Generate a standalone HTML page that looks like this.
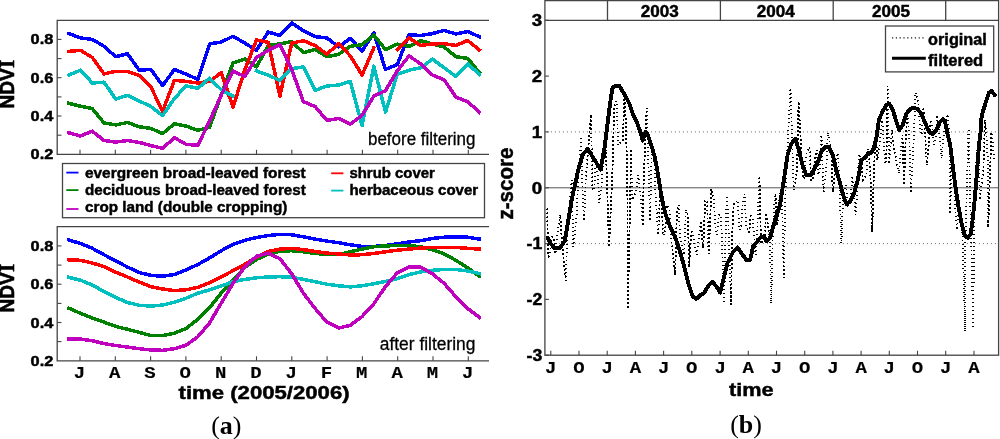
<!DOCTYPE html>
<html><head><meta charset="utf-8"><style>
html,body{margin:0;padding:0;background:#fff;}
svg{display:block;will-change:transform;}
text{fill:#000;} text[font-weight=bold]{stroke:#000;stroke-width:0.45px;} text.b{stroke-width:0.15px;}
</style></head><body>
<svg width="1000" height="439" viewBox="0 0 1000 439">
<g>
<path d="M489,20.3 H57.2 V154.3 H489" fill="none" stroke="#444" stroke-width="1.3"/>
<line x1="57.2" y1="135.2" x2="61.5" y2="135.2" stroke="#444" stroke-width="1.1"/>
<line x1="57.2" y1="116.0" x2="61.5" y2="116.0" stroke="#444" stroke-width="1.1"/>
<line x1="57.2" y1="96.9" x2="61.5" y2="96.9" stroke="#444" stroke-width="1.1"/>
<line x1="57.2" y1="77.7" x2="61.5" y2="77.7" stroke="#444" stroke-width="1.1"/>
<line x1="57.2" y1="58.6" x2="61.5" y2="58.6" stroke="#444" stroke-width="1.1"/>
<line x1="57.2" y1="39.4" x2="61.5" y2="39.4" stroke="#444" stroke-width="1.1"/>
<line x1="80.0" y1="154.3" x2="80.0" y2="149.8" stroke="#444" stroke-width="1.1"/>
<line x1="115.3" y1="154.3" x2="115.3" y2="149.8" stroke="#444" stroke-width="1.1"/>
<line x1="150.6" y1="154.3" x2="150.6" y2="149.8" stroke="#444" stroke-width="1.1"/>
<line x1="185.9" y1="154.3" x2="185.9" y2="149.8" stroke="#444" stroke-width="1.1"/>
<line x1="221.2" y1="154.3" x2="221.2" y2="149.8" stroke="#444" stroke-width="1.1"/>
<line x1="256.5" y1="154.3" x2="256.5" y2="149.8" stroke="#444" stroke-width="1.1"/>
<line x1="291.8" y1="154.3" x2="291.8" y2="149.8" stroke="#444" stroke-width="1.1"/>
<line x1="327.1" y1="154.3" x2="327.1" y2="149.8" stroke="#444" stroke-width="1.1"/>
<line x1="362.4" y1="154.3" x2="362.4" y2="149.8" stroke="#444" stroke-width="1.1"/>
<line x1="397.7" y1="154.3" x2="397.7" y2="149.8" stroke="#444" stroke-width="1.1"/>
<line x1="433.0" y1="154.3" x2="433.0" y2="149.8" stroke="#444" stroke-width="1.1"/>
<line x1="468.3" y1="154.3" x2="468.3" y2="149.8" stroke="#444" stroke-width="1.1"/>
<polyline points="68.8,33.5 80.5,38.0 92.3,39.4 104.0,46.3 115.7,56.7 127.5,53.8 139.2,70.2 150.9,69.4 162.6,85.6 174.4,69.4 186.1,74.2 197.8,79.3 209.6,43.9 221.3,42.0 233.0,36.3 244.8,43.1 256.5,50.3 268.2,32.0 279.9,35.5 291.7,22.9 303.4,30.8 315.1,36.7 326.9,37.9 338.6,47.0 350.3,38.3 362.1,51.1 373.8,32.8 385.5,69.4 397.2,64.7 409.0,34.7 420.7,35.5 432.4,33.6 444.2,30.4 455.9,34.0 467.6,31.5 479.4,36.7" fill="none" stroke="#0000ff" stroke-width="3.5" stroke-linejoin="round" stroke-linecap="square" shape-rendering="crispEdges"/>
<polyline points="68.8,103.3 80.5,106.2 92.3,108.6 104.0,122.9 115.7,124.9 127.5,122.5 139.2,126.8 150.9,128.4 162.6,133.6 174.4,123.7 186.1,126.1 197.8,130.4 209.6,127.2 221.3,94.6 233.0,63.0 244.8,59.0 256.5,67.0 268.2,45.5 279.9,43.9 291.7,41.5 303.4,52.7 315.1,49.5 326.9,56.7 338.6,54.3 350.3,46.3 362.1,44.7 373.8,35.1 385.5,49.5 397.2,44.2 409.0,46.3 420.7,40.7 432.4,43.9 444.2,47.1 455.9,56.7 467.6,58.3 479.4,72.6" fill="none" stroke="#008000" stroke-width="3.5" stroke-linejoin="round" stroke-linecap="square" shape-rendering="crispEdges"/>
<polyline points="68.8,51.4 80.5,50.3 92.3,57.5 104.0,73.9 115.7,71.3 127.5,71.3 139.2,75.5 150.9,87.0 162.6,111.3 174.4,80.3 186.1,81.4 197.8,83.0 209.6,81.4 221.3,72.6 233.0,107.3 244.8,70.0 256.5,39.9 268.2,42.3 279.9,96.2 291.7,43.1 303.4,40.7 315.1,45.5 326.9,54.3 338.6,43.5 350.3,55.9 362.1,75.0 373.8,47.9" fill="none" stroke="#ff0000" stroke-width="3.5" stroke-linejoin="round" stroke-linecap="square" shape-rendering="crispEdges"/>
<polyline points="397.2,49.5 409.0,37.9 420.7,45.5 432.4,43.9 444.2,43.6 455.9,45.5 467.6,40.4 479.4,50.0" fill="none" stroke="#ff0000" stroke-width="3.5" stroke-linejoin="round" stroke-linecap="square" shape-rendering="crispEdges"/>
<polyline points="68.8,75.0 80.5,70.2 92.3,83.0 104.0,82.2 115.7,99.0 127.5,95.4 139.2,101.0 150.9,106.5 162.6,115.6 174.4,98.5 186.1,85.8 197.8,88.3 209.6,78.2 221.3,89.8 233.0,96.2" fill="none" stroke="#00bfbf" stroke-width="3.5" stroke-linejoin="round" stroke-linecap="square" shape-rendering="crispEdges"/>
<polyline points="256.5,71.0 268.2,75.0 279.9,80.6 291.7,68.6 303.4,67.0 315.1,90.3 326.9,86.0 338.6,85.0 350.3,81.4 362.1,125.7 373.8,66.2 385.5,112.1 397.2,74.2 409.0,70.2 420.7,67.8 432.4,59.1 444.2,67.8 455.9,76.6 467.6,63.9 479.4,74.2" fill="none" stroke="#00bfbf" stroke-width="3.5" stroke-linejoin="round" stroke-linecap="square" shape-rendering="crispEdges"/>
<polyline points="68.8,132.8 80.5,136.0 92.3,131.2 104.0,140.5 115.7,142.1 127.5,140.5 139.2,142.4 150.9,145.6 162.6,148.4 174.4,137.6 186.1,144.3 197.8,145.3 209.6,121.0 221.3,95.0 233.0,71.0 244.8,76.6 256.5,57.5 268.2,50.3 279.9,44.7 291.7,69.4 303.4,101.7 315.1,106.5 326.9,120.4 338.6,118.5 350.3,124.1 362.1,115.3 373.8,96.2 385.5,90.6 397.2,71.0 409.0,55.9 420.7,63.9 432.4,75.0 444.2,79.8 455.9,97.0 467.6,101.7 479.4,112.1" fill="none" stroke="#bf00bf" stroke-width="3.5" stroke-linejoin="round" stroke-linecap="square" shape-rendering="crispEdges"/>
<text x="368" y="144.6" font-family="Liberation Sans" font-size="18.3" stroke="#000" stroke-width="0.3" textLength="107.4" lengthAdjust="spacingAndGlyphs">before filtering</text>
<path d="M489,226.7 H57.2 V360.8 H489" fill="none" stroke="#444" stroke-width="1.3"/>
<line x1="57.2" y1="341.6" x2="61.5" y2="341.6" stroke="#444" stroke-width="1.1"/>
<line x1="57.2" y1="322.5" x2="61.5" y2="322.5" stroke="#444" stroke-width="1.1"/>
<line x1="57.2" y1="303.4" x2="61.5" y2="303.4" stroke="#444" stroke-width="1.1"/>
<line x1="57.2" y1="284.2" x2="61.5" y2="284.2" stroke="#444" stroke-width="1.1"/>
<line x1="57.2" y1="265.1" x2="61.5" y2="265.1" stroke="#444" stroke-width="1.1"/>
<line x1="57.2" y1="245.9" x2="61.5" y2="245.9" stroke="#444" stroke-width="1.1"/>
<line x1="80.0" y1="360.8" x2="80.0" y2="356.3" stroke="#444" stroke-width="1.1"/>
<line x1="115.3" y1="360.8" x2="115.3" y2="356.3" stroke="#444" stroke-width="1.1"/>
<line x1="150.6" y1="360.8" x2="150.6" y2="356.3" stroke="#444" stroke-width="1.1"/>
<line x1="185.9" y1="360.8" x2="185.9" y2="356.3" stroke="#444" stroke-width="1.1"/>
<line x1="221.2" y1="360.8" x2="221.2" y2="356.3" stroke="#444" stroke-width="1.1"/>
<line x1="256.5" y1="360.8" x2="256.5" y2="356.3" stroke="#444" stroke-width="1.1"/>
<line x1="291.8" y1="360.8" x2="291.8" y2="356.3" stroke="#444" stroke-width="1.1"/>
<line x1="327.1" y1="360.8" x2="327.1" y2="356.3" stroke="#444" stroke-width="1.1"/>
<line x1="362.4" y1="360.8" x2="362.4" y2="356.3" stroke="#444" stroke-width="1.1"/>
<line x1="397.7" y1="360.8" x2="397.7" y2="356.3" stroke="#444" stroke-width="1.1"/>
<line x1="433.0" y1="360.8" x2="433.0" y2="356.3" stroke="#444" stroke-width="1.1"/>
<line x1="468.3" y1="360.8" x2="468.3" y2="356.3" stroke="#444" stroke-width="1.1"/>
<polyline points="68.8,240.0 80.5,243.5 92.3,248.3 104.0,254.7 115.7,260.8 127.5,267.1 139.2,272.5 150.9,275.4 162.6,276.2 174.4,274.6 186.1,269.8 197.8,264.5 209.6,257.9 221.3,250.7 233.0,244.3 244.8,240.3 256.5,237.5 268.2,235.6 279.9,234.3 291.7,234.8 303.4,236.8 315.1,239.1 326.9,241.1 338.6,242.7 350.3,244.8 362.1,246.4 373.8,246.4 385.5,245.5 397.2,243.9 409.0,241.9 420.7,240.7 432.4,238.4 444.2,237.2 455.9,237.2 467.6,237.2 479.4,239.1" fill="none" stroke="#0000ff" stroke-width="3.5" stroke-linejoin="round" stroke-linecap="square" shape-rendering="crispEdges"/>
<polyline points="68.8,308.2 80.5,313.3 92.3,318.1 104.0,322.1 115.7,326.4 127.5,329.3 139.2,332.4 150.9,335.6 162.6,335.6 174.4,333.2 186.1,328.5 197.8,319.3 209.6,307.7 221.3,293.0 233.0,280.2 244.8,267.4 256.5,259.5 268.2,253.9 279.9,251.2 291.7,250.7 303.4,251.8 315.1,253.4 326.9,254.4 338.6,254.5 350.3,251.8 362.1,249.1 373.8,246.7 385.5,245.9 397.2,245.5 409.0,245.5 420.7,246.7 432.4,249.9 444.2,253.9 455.9,260.3 467.6,267.8 479.4,276.2" fill="none" stroke="#008000" stroke-width="3.5" stroke-linejoin="round" stroke-linecap="square" shape-rendering="crispEdges"/>
<polyline points="68.8,259.8 80.5,260.3 92.3,263.0 104.0,266.7 115.7,272.2 127.5,277.0 139.2,282.1 150.9,286.6 162.6,289.0 174.4,290.6 186.1,289.8 197.8,287.4 209.6,282.6 221.3,277.0 233.0,270.6 244.8,264.3 256.5,257.1 268.2,251.5 279.9,249.1 291.7,248.3 303.4,249.6 315.1,251.5 326.9,253.1 338.6,253.9 350.3,255.0 362.1,254.7 373.8,253.4 385.5,251.8 397.2,250.2 409.0,249.1 420.7,248.0 432.4,247.5 444.2,247.5 455.9,247.5 467.6,248.3 479.4,249.1" fill="none" stroke="#ff0000" stroke-width="3.5" stroke-linejoin="round" stroke-linecap="square" shape-rendering="crispEdges"/>
<polyline points="68.8,277.3 80.5,280.2 92.3,285.0 104.0,291.6 115.7,297.4 127.5,302.5 139.2,305.3 150.9,306.1 162.6,305.0 174.4,302.2 186.1,298.2 197.8,293.2 209.6,289.8 221.3,285.8 233.0,281.8 244.8,279.4 256.5,277.8 268.2,277.0 279.9,276.7 291.7,277.3 303.4,279.4 315.1,281.8 326.9,284.2 338.6,285.8 350.3,286.9 362.1,285.8 373.8,283.7 385.5,281.5 397.2,278.6 409.0,274.6 420.7,271.9 432.4,270.3 444.2,269.4 455.9,269.4 467.6,271.0 479.4,273.5" fill="none" stroke="#00bfbf" stroke-width="3.5" stroke-linejoin="round" stroke-linecap="square" shape-rendering="crispEdges"/>
<polyline points="68.8,338.8 80.5,339.1 92.3,340.7 104.0,343.6 115.7,345.5 127.5,347.1 139.2,348.7 150.9,350.0 162.6,350.3 174.4,348.7 186.1,345.2 197.8,336.8 209.6,322.9 221.3,303.0 233.0,283.4 244.8,266.7 256.5,256.3 268.2,253.1 279.9,258.7 291.7,273.8 303.4,293.2 315.1,308.5 326.9,322.1 338.6,328.0 350.3,325.3 362.1,316.5 373.8,303.8 385.5,286.5 397.2,273.0 409.0,267.1 420.7,267.1 432.4,273.8 444.2,283.4 455.9,296.8 467.6,308.5 479.4,317.3" fill="none" stroke="#bf00bf" stroke-width="3.5" stroke-linejoin="round" stroke-linecap="square" shape-rendering="crispEdges"/>
<text x="379.8" y="350.2" font-family="Liberation Sans" font-size="18.3" stroke="#000" stroke-width="0.3" textLength="95.6" lengthAdjust="spacingAndGlyphs">after filtering</text>
<text x="53.3" y="159.3" text-anchor="end" font-family="Liberation Sans" font-weight="bold" font-size="13.8" textLength="22.7" lengthAdjust="spacingAndGlyphs">0.2</text>
<text x="53.3" y="121.0" text-anchor="end" font-family="Liberation Sans" font-weight="bold" font-size="13.8" textLength="22.7" lengthAdjust="spacingAndGlyphs">0.4</text>
<text x="53.3" y="82.7" text-anchor="end" font-family="Liberation Sans" font-weight="bold" font-size="13.8" textLength="22.7" lengthAdjust="spacingAndGlyphs">0.6</text>
<text x="53.3" y="44.4" text-anchor="end" font-family="Liberation Sans" font-weight="bold" font-size="13.8" textLength="22.7" lengthAdjust="spacingAndGlyphs">0.8</text>
<text x="53.3" y="365.8" text-anchor="end" font-family="Liberation Sans" font-weight="bold" font-size="13.8" textLength="22.7" lengthAdjust="spacingAndGlyphs">0.2</text>
<text x="53.3" y="327.5" text-anchor="end" font-family="Liberation Sans" font-weight="bold" font-size="13.8" textLength="22.7" lengthAdjust="spacingAndGlyphs">0.4</text>
<text x="53.3" y="289.2" text-anchor="end" font-family="Liberation Sans" font-weight="bold" font-size="13.8" textLength="22.7" lengthAdjust="spacingAndGlyphs">0.6</text>
<text x="53.3" y="250.9" text-anchor="end" font-family="Liberation Sans" font-weight="bold" font-size="13.8" textLength="22.7" lengthAdjust="spacingAndGlyphs">0.8</text>
<text transform="translate(14.3,84.3) rotate(-90)" text-anchor="middle" font-family="Liberation Sans" font-weight="bold" font-size="19.5" style="stroke-width:0.6px" textLength="48.5" lengthAdjust="spacingAndGlyphs">NDV<tspan font-family="Liberation Serif" font-size="21">I</tspan></text>
<text transform="translate(14.3,288.3) rotate(-90)" text-anchor="middle" font-family="Liberation Sans" font-weight="bold" font-size="19.5" style="stroke-width:0.6px" textLength="48.5" lengthAdjust="spacingAndGlyphs">NDV<tspan font-family="Liberation Serif" font-size="21">I</tspan></text>
<text x="79.4" y="377.8" text-anchor="middle" font-family="Liberation Mono" font-weight="bold" font-size="17" class="b" textLength="11.4" lengthAdjust="spacingAndGlyphs">J</text>
<text x="114.7" y="377.8" text-anchor="middle" font-family="Liberation Mono" font-weight="bold" font-size="17" class="b" textLength="11.4" lengthAdjust="spacingAndGlyphs">A</text>
<text x="150.0" y="377.8" text-anchor="middle" font-family="Liberation Mono" font-weight="bold" font-size="17" class="b" textLength="11.4" lengthAdjust="spacingAndGlyphs">S</text>
<text x="185.3" y="377.8" text-anchor="middle" font-family="Liberation Mono" font-weight="bold" font-size="17" class="b" textLength="11.4" lengthAdjust="spacingAndGlyphs">O</text>
<text x="220.6" y="377.8" text-anchor="middle" font-family="Liberation Mono" font-weight="bold" font-size="17" class="b" textLength="11.4" lengthAdjust="spacingAndGlyphs">N</text>
<text x="255.9" y="377.8" text-anchor="middle" font-family="Liberation Mono" font-weight="bold" font-size="17" class="b" textLength="11.4" lengthAdjust="spacingAndGlyphs">D</text>
<text x="291.2" y="377.8" text-anchor="middle" font-family="Liberation Mono" font-weight="bold" font-size="17" class="b" textLength="11.4" lengthAdjust="spacingAndGlyphs">J</text>
<text x="326.5" y="377.8" text-anchor="middle" font-family="Liberation Mono" font-weight="bold" font-size="17" class="b" textLength="11.4" lengthAdjust="spacingAndGlyphs">F</text>
<text x="361.8" y="377.8" text-anchor="middle" font-family="Liberation Mono" font-weight="bold" font-size="17" class="b" textLength="11.4" lengthAdjust="spacingAndGlyphs">M</text>
<text x="397.1" y="377.8" text-anchor="middle" font-family="Liberation Mono" font-weight="bold" font-size="17" class="b" textLength="11.4" lengthAdjust="spacingAndGlyphs">A</text>
<text x="432.4" y="377.8" text-anchor="middle" font-family="Liberation Mono" font-weight="bold" font-size="17" class="b" textLength="11.4" lengthAdjust="spacingAndGlyphs">M</text>
<text x="467.7" y="377.8" text-anchor="middle" font-family="Liberation Mono" font-weight="bold" font-size="17" class="b" textLength="11.4" lengthAdjust="spacingAndGlyphs">J</text>
<text x="178.6" y="399.3" font-family="Liberation Sans" font-weight="bold" font-size="18" textLength="171" lengthAdjust="spacingAndGlyphs">time (2005/2006)</text>
<text x="211.2" y="433.5" font-family="Liberation Serif" font-size="26">(<tspan font-weight="bold">a</tspan>)</text>
<rect x="62.5" y="163.5" width="422" height="54.2" fill="none" stroke="#444" stroke-width="1.3"/>
<line x1="66.3" y1="172.6" x2="78.5" y2="172.6" stroke="#0000ff" stroke-width="1.8"/>
<text x="85" y="177.6" font-family="Liberation Sans" font-weight="bold" font-size="14.4" textLength="220.7" lengthAdjust="spacingAndGlyphs">evergreen broad-leaved forest</text>
<line x1="66.3" y1="190.1" x2="78.5" y2="190.1" stroke="#008000" stroke-width="1.8"/>
<text x="85" y="194.9" font-family="Liberation Sans" font-weight="bold" font-size="14.4" textLength="220.7" lengthAdjust="spacingAndGlyphs">deciduous broad-leaved forest</text>
<line x1="66.3" y1="209.0" x2="78.5" y2="209.0" stroke="#bf00bf" stroke-width="1.8"/>
<text x="85" y="211.9" font-family="Liberation Sans" font-weight="bold" font-size="14.4" textLength="202.3" lengthAdjust="spacingAndGlyphs">crop land (double cropping)</text>
<line x1="331.2" y1="173.3" x2="343.4" y2="173.3" stroke="#ff0000" stroke-width="1.8"/>
<text x="349.4" y="177.6" font-family="Liberation Sans" font-weight="bold" font-size="14.4" textLength="85.5" lengthAdjust="spacingAndGlyphs">shrub cover</text>
<line x1="331.2" y1="190.6" x2="343.4" y2="190.6" stroke="#00bfbf" stroke-width="1.8"/>
<text x="349.4" y="194.9" font-family="Liberation Sans" font-weight="bold" font-size="14.4" textLength="128.8" lengthAdjust="spacingAndGlyphs">herbaceous cover</text>
<rect x="544.9" y="0.6" width="453.70000000000005" height="354.59999999999997" fill="none" stroke="#444" stroke-width="1.3"/>
<line x1="544.9" y1="20.3" x2="998.6" y2="20.3" stroke="#444" stroke-width="1.3"/>
<line x1="607.5" y1="0.6" x2="607.5" y2="20.3" stroke="#444" stroke-width="1.3"/>
<line x1="720.4" y1="0.6" x2="720.4" y2="20.3" stroke="#444" stroke-width="1.3"/>
<line x1="833.2" y1="0.6" x2="833.2" y2="20.3" stroke="#444" stroke-width="1.3"/>
<line x1="945.7" y1="0.6" x2="945.7" y2="20.3" stroke="#444" stroke-width="1.3"/>
<text x="640.8" y="16.8" font-family="Liberation Sans" font-weight="bold" font-size="16" textLength="38" lengthAdjust="spacingAndGlyphs">2003</text>
<text x="756.8" y="16.8" font-family="Liberation Sans" font-weight="bold" font-size="16" textLength="38" lengthAdjust="spacingAndGlyphs">2004</text>
<text x="872" y="16.8" font-family="Liberation Sans" font-weight="bold" font-size="16" textLength="38" lengthAdjust="spacingAndGlyphs">2005</text>
<line x1="544.9" y1="187.8" x2="998.6" y2="187.8" stroke="#555" stroke-width="1"/>
<line x1="546.9" y1="131.9" x2="998.6" y2="131.9" stroke="#666" stroke-width="1" stroke-dasharray="1 3"/>
<line x1="546.9" y1="243.6" x2="998.6" y2="243.6" stroke="#666" stroke-width="1" stroke-dasharray="1 3"/>
<line x1="544.9" y1="355.2" x2="548.9" y2="355.2" stroke="#444" stroke-width="1.1"/>
<text x="542.2" y="361.0" text-anchor="end" font-family="Liberation Sans" font-weight="bold" font-size="16" textLength="15.7" lengthAdjust="spacingAndGlyphs">-3</text>
<line x1="544.9" y1="299.4" x2="548.9" y2="299.4" stroke="#444" stroke-width="1.1"/>
<text x="542.2" y="305.2" text-anchor="end" font-family="Liberation Sans" font-weight="bold" font-size="16" textLength="15.7" lengthAdjust="spacingAndGlyphs">-2</text>
<line x1="544.9" y1="243.6" x2="548.9" y2="243.6" stroke="#444" stroke-width="1.1"/>
<text x="542.2" y="249.4" text-anchor="end" font-family="Liberation Sans" font-weight="bold" font-size="16" textLength="15.7" lengthAdjust="spacingAndGlyphs">-1</text>
<line x1="544.9" y1="187.8" x2="548.9" y2="187.8" stroke="#444" stroke-width="1.1"/>
<text x="542.2" y="193.6" text-anchor="end" font-family="Liberation Sans" font-weight="bold" font-size="16" textLength="10.4" lengthAdjust="spacingAndGlyphs">0</text>
<line x1="544.9" y1="131.9" x2="548.9" y2="131.9" stroke="#444" stroke-width="1.1"/>
<text x="542.2" y="137.7" text-anchor="end" font-family="Liberation Sans" font-weight="bold" font-size="16" textLength="10.4" lengthAdjust="spacingAndGlyphs">1</text>
<line x1="544.9" y1="76.1" x2="548.9" y2="76.1" stroke="#444" stroke-width="1.1"/>
<text x="542.2" y="81.9" text-anchor="end" font-family="Liberation Sans" font-weight="bold" font-size="16" textLength="10.4" lengthAdjust="spacingAndGlyphs">2</text>
<line x1="544.9" y1="20.3" x2="548.9" y2="20.3" stroke="#444" stroke-width="1.1"/>
<text x="542.2" y="26.1" text-anchor="end" font-family="Liberation Sans" font-weight="bold" font-size="16" textLength="10.4" lengthAdjust="spacingAndGlyphs">3</text>
<line x1="550.8" y1="355.2" x2="550.8" y2="350.7" stroke="#444" stroke-width="1.1"/>
<text x="550.8" y="373" text-anchor="middle" font-family="Liberation Mono" font-weight="bold" font-size="17" class="b" textLength="11.4" lengthAdjust="spacingAndGlyphs">J</text>
<line x1="579.0" y1="355.2" x2="579.0" y2="350.7" stroke="#444" stroke-width="1.1"/>
<text x="579.0" y="373" text-anchor="middle" font-family="Liberation Mono" font-weight="bold" font-size="17" class="b" textLength="11.4" lengthAdjust="spacingAndGlyphs">O</text>
<line x1="607.2" y1="355.2" x2="607.2" y2="350.7" stroke="#444" stroke-width="1.1"/>
<text x="607.2" y="373" text-anchor="middle" font-family="Liberation Mono" font-weight="bold" font-size="17" class="b" textLength="11.4" lengthAdjust="spacingAndGlyphs">J</text>
<line x1="635.4" y1="355.2" x2="635.4" y2="350.7" stroke="#444" stroke-width="1.1"/>
<text x="635.4" y="373" text-anchor="middle" font-family="Liberation Mono" font-weight="bold" font-size="17" class="b" textLength="11.4" lengthAdjust="spacingAndGlyphs">A</text>
<line x1="663.6" y1="355.2" x2="663.6" y2="350.7" stroke="#444" stroke-width="1.1"/>
<text x="663.6" y="373" text-anchor="middle" font-family="Liberation Mono" font-weight="bold" font-size="17" class="b" textLength="11.4" lengthAdjust="spacingAndGlyphs">J</text>
<line x1="691.8" y1="355.2" x2="691.8" y2="350.7" stroke="#444" stroke-width="1.1"/>
<text x="691.8" y="373" text-anchor="middle" font-family="Liberation Mono" font-weight="bold" font-size="17" class="b" textLength="11.4" lengthAdjust="spacingAndGlyphs">O</text>
<line x1="720.1" y1="355.2" x2="720.1" y2="350.7" stroke="#444" stroke-width="1.1"/>
<text x="720.1" y="373" text-anchor="middle" font-family="Liberation Mono" font-weight="bold" font-size="17" class="b" textLength="11.4" lengthAdjust="spacingAndGlyphs">J</text>
<line x1="748.3" y1="355.2" x2="748.3" y2="350.7" stroke="#444" stroke-width="1.1"/>
<text x="748.3" y="373" text-anchor="middle" font-family="Liberation Mono" font-weight="bold" font-size="17" class="b" textLength="11.4" lengthAdjust="spacingAndGlyphs">A</text>
<line x1="776.5" y1="355.2" x2="776.5" y2="350.7" stroke="#444" stroke-width="1.1"/>
<text x="776.5" y="373" text-anchor="middle" font-family="Liberation Mono" font-weight="bold" font-size="17" class="b" textLength="11.4" lengthAdjust="spacingAndGlyphs">J</text>
<line x1="804.7" y1="355.2" x2="804.7" y2="350.7" stroke="#444" stroke-width="1.1"/>
<text x="804.7" y="373" text-anchor="middle" font-family="Liberation Mono" font-weight="bold" font-size="17" class="b" textLength="11.4" lengthAdjust="spacingAndGlyphs">O</text>
<line x1="832.9" y1="355.2" x2="832.9" y2="350.7" stroke="#444" stroke-width="1.1"/>
<text x="832.9" y="373" text-anchor="middle" font-family="Liberation Mono" font-weight="bold" font-size="17" class="b" textLength="11.4" lengthAdjust="spacingAndGlyphs">J</text>
<line x1="861.1" y1="355.2" x2="861.1" y2="350.7" stroke="#444" stroke-width="1.1"/>
<text x="861.1" y="373" text-anchor="middle" font-family="Liberation Mono" font-weight="bold" font-size="17" class="b" textLength="11.4" lengthAdjust="spacingAndGlyphs">A</text>
<line x1="889.3" y1="355.2" x2="889.3" y2="350.7" stroke="#444" stroke-width="1.1"/>
<text x="889.3" y="373" text-anchor="middle" font-family="Liberation Mono" font-weight="bold" font-size="17" class="b" textLength="11.4" lengthAdjust="spacingAndGlyphs">J</text>
<line x1="917.5" y1="355.2" x2="917.5" y2="350.7" stroke="#444" stroke-width="1.1"/>
<text x="917.5" y="373" text-anchor="middle" font-family="Liberation Mono" font-weight="bold" font-size="17" class="b" textLength="11.4" lengthAdjust="spacingAndGlyphs">O</text>
<line x1="945.7" y1="355.2" x2="945.7" y2="350.7" stroke="#444" stroke-width="1.1"/>
<text x="945.7" y="373" text-anchor="middle" font-family="Liberation Mono" font-weight="bold" font-size="17" class="b" textLength="11.4" lengthAdjust="spacingAndGlyphs">J</text>
<line x1="974.0" y1="355.2" x2="974.0" y2="350.7" stroke="#444" stroke-width="1.1"/>
<text x="974.0" y="373" text-anchor="middle" font-family="Liberation Mono" font-weight="bold" font-size="17" class="b" textLength="11.4" lengthAdjust="spacingAndGlyphs">A</text>
<text transform="translate(512.7,183.6) rotate(-90)" text-anchor="middle" font-family="Liberation Sans" font-weight="bold" font-size="22" textLength="72" lengthAdjust="spacingAndGlyphs">z-score</text>
<text x="729" y="396.1" font-family="Liberation Sans" font-weight="bold" font-size="19" textLength="44.6" lengthAdjust="spacingAndGlyphs">time</text>
<text x="730.2" y="433.4" font-family="Liberation Serif" font-size="26">(<tspan font-weight="bold">b</tspan>)</text>
<polyline points="546.9,208.5 548.5,258.6 550.2,252.0 551.8,237.0 553.3,237.0 554.9,248.0 555.5,253.8 557.1,235.0 560.2,215.0 561.8,240.0 565.8,281.0 567.4,230.0 571.7,180.0 573.3,247.0 576.7,215.0 578.3,175.0 581.2,138.5 582.8,200.0 584.1,221.0 585.7,180.0 590.9,114.6 592.5,190.0 594.2,190.0 595.8,160.0 597.7,175.0 599.3,202.8 601.2,190.0 602.8,165.0 605.9,150.0 609.1,247.0 612.5,170.0 614.1,107.8 616.6,101.0 618.2,145.4 622.8,140.0 624.4,97.5 625.7,120.0 627.3,175.0 627.9,309.0 631.1,150.0 630.8,148.8 632.4,200.0 636.5,190.0 638.1,175.0 641.0,200.0 642.6,225.6 643.7,180.0 645.3,140.0 646.7,107.8 648.3,160.0 650.1,221.0 651.7,150.0 654.2,160.0 655.8,200.0 658.2,235.0 659.8,195.0 661.7,202.8 663.3,235.8 665.2,230.0 666.8,205.0 669.4,210.0 671.0,237.0 675.2,275.0 676.8,214.0 678.6,205.0 680.2,240.0 684.2,255.0 685.8,209.6 687.7,215.0 689.3,267.0 690.2,245.0 691.8,230.0 693.2,235.0 694.8,248.0 696.8,255.0 698.4,240.0 701.2,221.0 702.8,248.0 703.6,240.0 705.2,200.5 707.0,200.5 708.6,254.0 709.8,230.0 711.4,189.0 713.9,200.0 715.5,227.8 717.2,235.0 718.8,215.0 721.0,215.0 724.2,303.5 725.2,250.0 726.8,193.7 727.9,210.0 731.1,304.7 732.1,237.0 733.7,202.8 737.8,200.5 739.4,230.0 741.2,225.0 742.8,201.0 744.6,193.7 746.2,225.6 749.2,232.4 750.8,214.0 752.6,218.7 754.2,237.0 755.7,255.0 757.3,230.0 759.4,176.4 761.0,243.8 764.5,240.0 766.1,213.0 769.7,237.0 771.3,303.5 772.7,235.0 774.3,205.0 775.4,193.7 777.0,225.6 778.2,220.0 779.8,193.0 782.2,205.0 783.8,278.0 785.2,200.0 786.8,160.0 790.5,88.0 793.7,190.0 797.0,170.0 798.6,101.6 801.2,150.0 802.8,178.0 804.2,178.0 805.8,155.0 809.5,147.2 811.1,180.0 813.2,180.0 814.8,160.0 816.7,150.0 818.3,175.0 819.8,170.0 821.4,134.7 822.0,150.0 823.6,192.0 826.2,170.0 827.8,132.4 831.2,150.0 832.8,192.0 834.2,180.0 835.8,160.0 838.0,152.9 839.6,190.0 841.4,243.3 843.0,197.8 846.2,185.0 847.8,205.0 850.7,200.0 852.3,176.0 853.9,190.0 855.5,214.9 857.3,190.0 858.9,154.0 861.2,160.0 862.8,180.0 866.5,175.0 868.1,148.3 869.2,160.0 870.8,185.0 872.2,232.0 873.8,175.0 875.7,130.0 877.3,160.0 879.2,150.0 880.8,132.0 882.2,120.0 883.8,143.8 885.4,164.3 887.0,143.8 887.6,85.7 889.2,164.0 890.2,150.0 891.8,130.0 893.3,143.8 894.9,152.9 899.0,173.4 900.6,152.9 902.4,134.7 904.0,185.0 905.7,140.0 907.3,115.0 909.2,132.0 910.8,193.2 913.8,140.0 915.4,92.5 918.4,101.6 920.0,130.0 921.8,135.0 923.4,107.3 925.2,132.4 926.8,165.4 929.2,140.0 930.8,120.0 932.2,125.0 933.8,145.0 935.5,140.0 937.1,115.3 940.0,139.0 941.6,158.6 943.2,140.0 944.8,125.0 948.0,114.2 949.6,150.0 950.2,213.7 951.8,150.0 954.2,180.0 955.8,220.0 957.2,230.0 958.8,200.0 962.0,220.0 965.2,331.5 965.4,240.0 968.6,126.7 970.0,190.0 973.2,326.5 974.2,220.0 975.8,170.0 978.2,140.0 979.8,200.0 983.3,170.0 984.9,119.9 986.2,130.0 987.8,160.0 988.2,227.4 991.4,132.4 992.4,137.0 994.0,160.0" fill="none" stroke="#000" stroke-width="1.8" stroke-dasharray="1.3 2.7" shape-rendering="crispEdges"/>
<polyline points="547.6,237.8 551.0,244.0 554.4,248.0 560.0,248.0 564.6,241.3 566.9,228.7 569.2,215.0 571.5,201.4 573.8,190.0 578.8,167.6 582.6,155.0 587.6,148.8 593.9,158.8 600.6,169.6 604.6,147.4 608.0,120.1 610.3,101.9 612.5,88.2 614.8,86.0 619.4,86.0 622.8,91.6 626.2,97.3 629.6,104.2 633.0,114.4 636.4,121.3 639.9,130.4 642.8,140.6 645.6,131.5 647.8,134.9 651.3,145.2 654.7,156.6 657.0,167.9 658.8,180.0 661.3,195.2 665.0,212.7 670.0,226.5 675.0,237.0 678.8,247.5 683.8,265.0 688.8,285.0 692.6,296.4 696.4,298.9 700.1,295.2 703.9,293.1 708.9,285.1 712.6,282.1 716.4,286.4 720.2,292.6 723.9,277.6 727.7,262.6 732.7,252.5 737.7,247.5 742.7,255.0 746.5,260.0 750.2,260.0 753.2,246.3 756.5,242.5 760.3,237.5 764.0,236.3 766.5,241.3 770.0,237.8 775.0,220.2 780.0,205.2 783.8,180.1 787.6,155.0 791.3,143.8 795.1,138.8 798.8,150.0 802.6,165.1 806.4,175.1 810.1,175.6 813.9,170.1 817.6,162.6 821.4,151.3 825.2,147.0 828.9,147.5 832.7,155.1 836.4,170.1 840.2,183.9 843.9,197.7 846.5,203.9 850.2,201.4 854.0,193.9 857.7,180.1 861.5,160.1 865.3,157.6 867.8,153.8 871.5,152.6 874.0,147.5 876.5,137.5 878.8,120.2 882.5,111.5 886.3,105.2 889.3,104.0 892.5,109.0 896.3,121.5 899.3,130.3 902.6,125.3 906.3,114.0 910.1,109.0 913.8,107.7 917.6,109.0 921.4,114.0 925.1,122.7 928.9,131.5 932.6,134.0 936.4,130.3 940.2,121.5 943.2,119.0 945.2,122.7 947.7,135.0 950.2,145.0 952.7,165.1 955.2,185.1 958.2,205.2 961.5,222.7 964.7,235.3 967.7,237.8 970.7,234.0 973.2,215.2 975.3,192.7 977.3,167.6 979.0,145.0 980.8,130.0 981.5,117.7 983.3,110.2 986.5,100.2 989.0,92.7 991.5,90.7 994.8,95.2" fill="none" stroke="#000" stroke-width="3.9" stroke-linejoin="round" stroke-linecap="round" shape-rendering="crispEdges"/>
<rect x="885.5" y="26" width="108.2" height="45.9" fill="#fff" stroke="#444" stroke-width="1.3"/>
<line x1="892" y1="37.8" x2="925.8" y2="37.8" stroke="#111" stroke-width="1.3" stroke-dasharray="1.2 2.6"/>
<line x1="892" y1="58.3" x2="925.8" y2="58.3" stroke="#000" stroke-width="3"/>
<text x="928.1" y="45.0" font-family="Liberation Sans" font-weight="bold" font-size="16.5" textLength="58.8" lengthAdjust="spacingAndGlyphs">original</text>
<text x="928.1" y="66.4" font-family="Liberation Sans" font-weight="bold" font-size="16.5" textLength="55.1" lengthAdjust="spacingAndGlyphs">filtered</text>
</g>
</svg></body></html>
